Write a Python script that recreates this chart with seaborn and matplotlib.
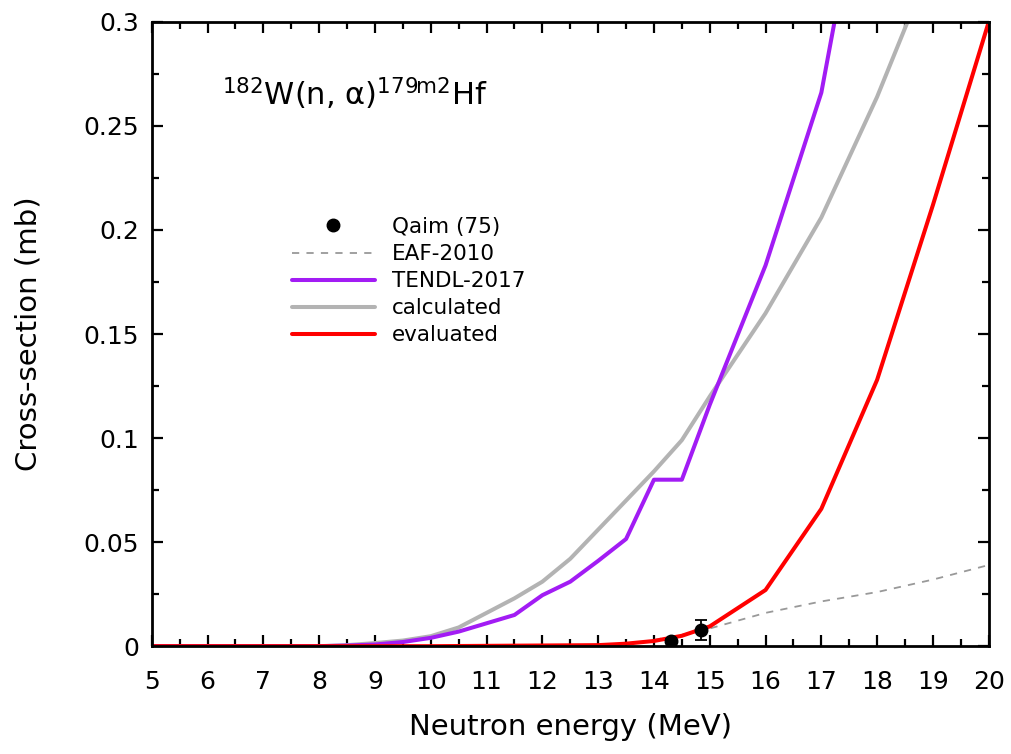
import matplotlib
matplotlib.use("Agg")
import matplotlib.pyplot as plt
import seaborn as sns
import pandas as pd
from matplotlib.ticker import MultipleLocator, FuncFormatter
from matplotlib.lines import Line2D

# Qaim (1975) measurements
qaim_e = [14.3, 14.85]
qaim_xs = [0.0024, 0.008]
qaim_err = [0.001, 0.0048]

# EAF-2010 library
eaf_e = [14.0, 14.5, 15.0, 16.0, 17.0, 18.0, 19.0, 20.0]
eaf_xs = [0.003, 0.0055, 0.0085, 0.016, 0.0215, 0.026, 0.032, 0.039]

# TENDL-2017 library
tendl_e = [5, 8, 8.5, 9, 9.5, 10, 10.5, 11, 11.5, 12, 12.5, 13, 13.5, 14, 14.5, 15, 16, 17, 18]
tendl_xs = [0, 0, 0.0003, 0.0008, 0.002, 0.004, 0.007, 0.011, 0.015, 0.0245, 0.031,
            0.041, 0.0515, 0.08, 0.08, 0.116, 0.183, 0.266, 0.41]

# model calculation
calc_e = [5, 8, 8.5, 9, 9.5, 10, 10.5, 11, 11.5, 12, 12.5, 13, 13.5, 14, 14.5, 15, 16, 17, 18, 19]
calc_xs = [0, 0, 0.0005, 0.0015, 0.0027, 0.0048, 0.009, 0.016, 0.023, 0.031, 0.042,
           0.056, 0.070, 0.084, 0.099, 0.12, 0.16, 0.206, 0.264, 0.33]

# evaluated excitation function
eval_e = [5, 10, 13, 13.5, 14, 14.5, 15, 16, 17, 18, 19, 20]
eval_xs = [0, 0, 0.0005, 0.0012, 0.0025, 0.005, 0.0095, 0.027, 0.066, 0.128, 0.212, 0.30]

legend_labels = ["Qaim (75)", "EAF-2010", "TENDL-2017", "calculated", "evaluated"]

sns.set_theme(style="ticks")
plt.rcParams["font.family"] = ["DejaVu Sans"]
plt.rcParams["mathtext.fontset"] = "dejavusans"
plt.rcParams["text.color"] = "black"
plt.rcParams["axes.labelcolor"] = "black"

fig = plt.figure(figsize=(10.12, 7.54), dpi=100)
ax = fig.add_axes([0.150, 0.143, 0.827, 0.828])

c_purple = "#a21cf4"
c_gray = "#b3b3b3"
c_red = "#ff0000"
c_dash = "#999999"
lw = 2.9

eaf = pd.DataFrame({"E": eaf_e, "xs": eaf_xs})
tendl = pd.DataFrame({"E": tendl_e, "xs": tendl_xs})
calc = pd.DataFrame({"E": calc_e, "xs": calc_xs})
evl = pd.DataFrame({"E": eval_e, "xs": eval_xs})

sns.lineplot(data=eaf, x="E", y="xs", ax=ax, color=c_dash, lw=1.3,
             linestyle=(0, (4, 4)), zorder=2)
sns.lineplot(data=calc, x="E", y="xs", ax=ax, color=c_gray, lw=lw, zorder=3)
sns.lineplot(data=tendl, x="E", y="xs", ax=ax, color=c_purple, lw=lw, zorder=4)
sns.lineplot(data=evl, x="E", y="xs", ax=ax, color=c_red, lw=lw, zorder=5)
ax.errorbar(qaim_e, qaim_xs, yerr=qaim_err, fmt="o", color="black", ms=9,
            elinewidth=1.3, capsize=4, capthick=1.3, zorder=6)

ax.set_xlim(5, 20)
ax.set_ylim(0, 0.3)
ax.xaxis.set_major_locator(MultipleLocator(1))
ax.xaxis.set_minor_locator(MultipleLocator(0.5))
ax.yaxis.set_major_locator(MultipleLocator(0.05))
ax.yaxis.set_minor_locator(MultipleLocator(0.025))
ax.yaxis.set_major_formatter(FuncFormatter(lambda v, p: f"{v:g}"))
ax.tick_params(which="both", direction="in", top=True, right=True,
               width=1.6, colors="black", labelsize=18)
ax.tick_params(which="major", length=8)
ax.tick_params(which="minor", length=5)
ax.tick_params(axis="x", which="major", pad=17)
ax.tick_params(axis="y", which="major", pad=9)
for s in ax.spines.values():
    s.set_linewidth(2)
    s.set_color("black")
    s.set_zorder(10)

ax.set_xlabel("Neutron energy (MeV)", fontsize=21, labelpad=14)
ax.set_ylabel("Cross-section (mb)", fontsize=21, labelpad=30)

ax.text((222 - 152) / 837, (646 - 105) / 624,
        r"$^{182}$W(n, α)$^{\mathrm{179m2}}$Hf", transform=ax.transAxes,
        fontsize=22, ha="left", va="baseline")

handles = [
    Line2D([], [], marker="o", color="black", ls="none", ms=9),
    Line2D([], [], color=c_dash, lw=1.3, ls=(0, (4, 4))),
    Line2D([], [], color=c_purple, lw=lw),
    Line2D([], [], color=c_gray, lw=lw),
    Line2D([], [], color=c_red, lw=lw),
]
ax.legend(handles, legend_labels, loc="upper left",
          bbox_to_anchor=((292 - 152) / 837, (646 - 217) / 624),
          frameon=False, fontsize=15.5, handlelength=3.86, handletextpad=0.8,
          labelspacing=0.33, borderpad=0, borderaxespad=0)

fig.savefig("out.png", dpi=100, facecolor="white")
